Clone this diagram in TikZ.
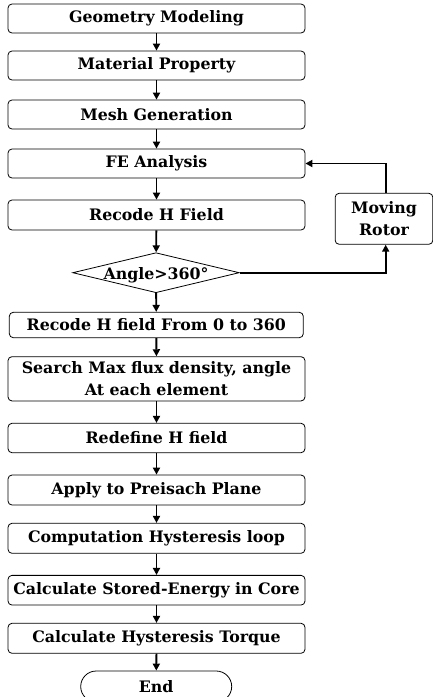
\documentclass[tikz,border=0pt]{standalone}
\usepackage{fontspec}
\setmainfont{DejaVu Serif}
\usetikzlibrary{arrows.meta,shapes.geometric,shapes.misc}
\tikzset{
  txt/.style={font=\fontsize{15.8}{22.5}\selectfont\bfseries},
  box/.style={draw, line width=0.8pt, rounded corners=4pt, minimum width=297pt, minimum height=29pt, inner sep=0pt, align=center, txt},
  dec/.style={draw, line width=0.8pt, diamond, aspect=4.16, minimum width=166.6pt, minimum height=40pt, inner sep=0pt},
  term/.style={draw, line width=0.8pt, rounded rectangle, minimum width=151pt, minimum height=31pt, inner sep=0pt, txt},
  arr/.style={line width=1.8pt, -{Triangle[width=7pt,length=7pt]}}
}
\begin{document}
\begin{tikzpicture}[x=1pt,y=-1pt]
\useasboundingbox (0,0) rectangle (433,697);
\clip (0,0) rectangle (433,697);
\node[box] (b1) at (156.5,18.5) {Geometry Modeling};
\node[box] (b2) at (156.5,65.5) {Material Property};
\node[box] (b3) at (156.5,114.5) {Mesh Generation};
\node[box] (b4) at (156.5,163.5) {FE Analysis};
\node[box, minimum height=30pt] (b5) at (156.5,215) {Recode H Field};
\node[dec] (d) at (156,272.7) {};
\node[txt, inner sep=0pt] (dt) at (156,275.5) {Angle>360°};
\node[box, minimum width=294pt, minimum height=25.4pt] (b6) at (156.3,325) {Recode H field From 0 to 360};
\node[box, minimum height=44.3pt] (b7) at (156.5,378.8) {Search Max flux density, angle\\At each element};
\node[box, minimum height=29.4pt] (b8) at (156.5,438) {Redefine H field};
\node[box, minimum height=30pt] (b9) at (156.5,490) {Apply to Preisach Plane};
\node[box, minimum height=30pt] (b10) at (156.5,538.3) {Computation Hysteresis loop};
\node[box, minimum height=29.7pt] (b11) at (156.5,590.2) {Calculate Stored-Energy in Core};
\node[box, minimum height=30pt] (b12) at (156.5,638.3) {Calculate Hysteresis Torque};
\node[term] (e) at (156.2,686.5) {End};
\node[box, minimum width=97.7pt, minimum height=51pt] (r) at (384,218.8) {Moving\\Rotor};
\draw[arr] (b1) -- (b2);
\draw[arr] (b2) -- (b3);
\draw[arr] (b3) -- (b4);
\draw[arr] (b4) -- (b5);
\draw[arr] (b5) -- (d);
\draw[arr] (d) -- (b6);
\draw[arr] (b6) -- (b7);
\draw[arr] (b7) -- (b8);
\draw[arr] (b8) -- (b9);
\draw[arr] (b9) -- (b10);
\draw[arr] (b10) -- (b11);
\draw[arr] (b11) -- (b12);
\draw[arr] (b12) -- (e);
\draw[arr] (d.east) -| ([xshift=1.7pt]r.south);
\draw[arr] ([xshift=1.7pt]r.north) |- (b4.east);
\end{tikzpicture}
\end{document}
